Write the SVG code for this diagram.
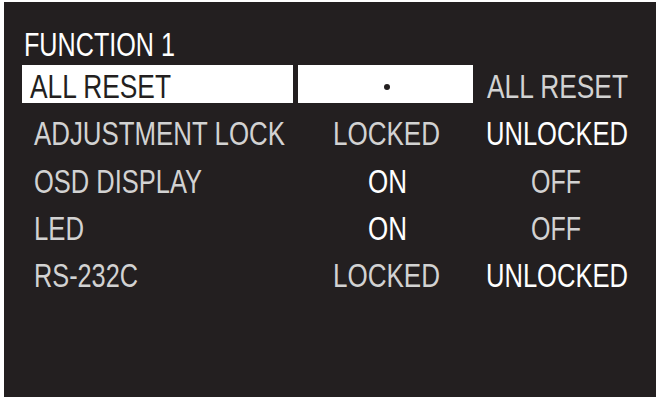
<svg xmlns="http://www.w3.org/2000/svg" width="656" height="409" viewBox="0 0 656 409">
<style>
text{font-family:"Liberation Sans",Arial,sans-serif;font-size:34px;fill:#d2d2d2}
.w{fill:#fff}
.k{fill:#231f20}
</style>
<rect x="4" y="2" width="652" height="395" fill="#231f20"/>
<g id="title"><text class="w" x="24" y="56" textLength="151" lengthAdjust="spacingAndGlyphs">FUNCTION 1</text></g>
<g id="row-allreset">
<rect x="22" y="65" width="271" height="38" fill="#fff"/>
<rect x="298" y="65" width="175" height="38" fill="#fff"/>
<text class="k" x="30" y="98" textLength="141" lengthAdjust="spacingAndGlyphs">ALL RESET</text>
<circle cx="387" cy="87" r="3" fill="#231f20"/>
<text x="487" y="98" textLength="141" lengthAdjust="spacingAndGlyphs">ALL RESET</text>
</g>
<g id="row-adj">
<text x="34" y="145" textLength="251" lengthAdjust="spacingAndGlyphs">ADJUSTMENT LOCK</text>
<text x="333" y="145" textLength="107" lengthAdjust="spacingAndGlyphs">LOCKED</text>
<text class="w" x="486" y="145" textLength="142" lengthAdjust="spacingAndGlyphs">UNLOCKED</text>
</g>
<g id="row-osd">
<text x="34" y="193" textLength="168" lengthAdjust="spacingAndGlyphs">OSD DISPLAY</text>
<text class="w" x="368" y="193" textLength="39" lengthAdjust="spacingAndGlyphs">ON</text>
<text x="531" y="193" textLength="50" lengthAdjust="spacingAndGlyphs">OFF</text>
</g>
<g id="row-led">
<text x="34" y="240" textLength="50" lengthAdjust="spacingAndGlyphs">LED</text>
<text class="w" x="368" y="240" textLength="39" lengthAdjust="spacingAndGlyphs">ON</text>
<text x="531" y="240" textLength="50" lengthAdjust="spacingAndGlyphs">OFF</text>
</g>
<g id="row-rs">
<text x="34" y="287" textLength="104" lengthAdjust="spacingAndGlyphs">RS-232C</text>
<text x="333" y="287" textLength="107" lengthAdjust="spacingAndGlyphs">LOCKED</text>
<text class="w" x="486" y="287" textLength="142" lengthAdjust="spacingAndGlyphs">UNLOCKED</text>
</g>
</svg>
